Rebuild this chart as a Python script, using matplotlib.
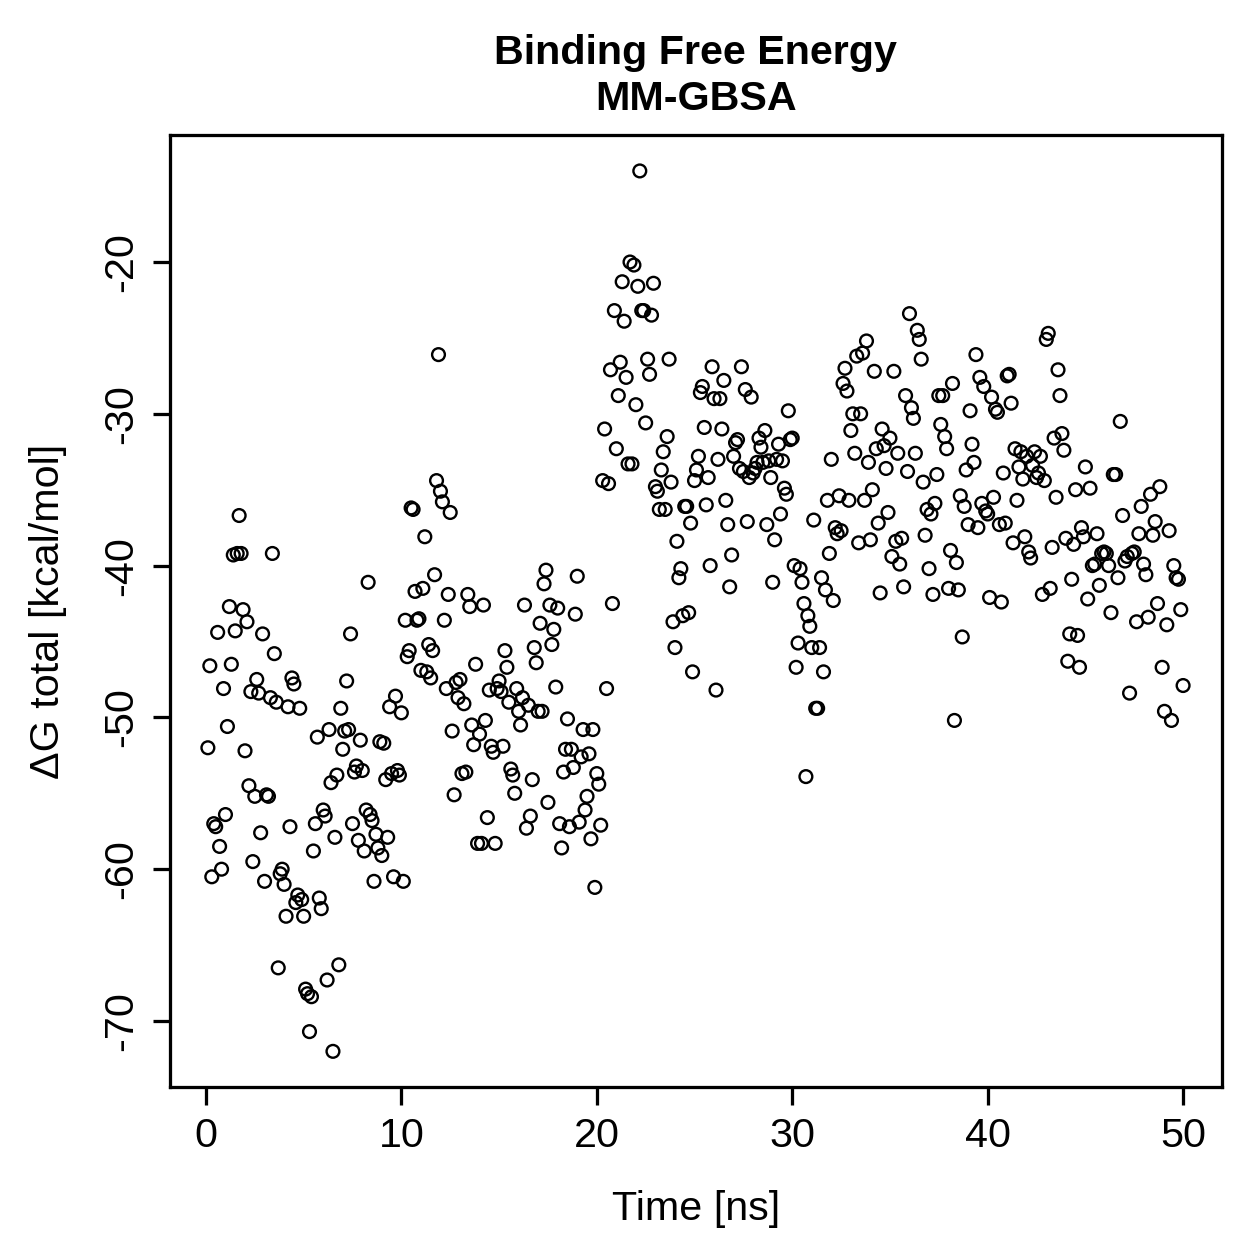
import numpy as np
import matplotlib
matplotlib.use('Agg')
import matplotlib.pyplot as plt

plt.rcParams['font.family'] = ['Liberation Sans', 'DejaVu Sans']
plt.rcParams['axes.unicode_minus'] = False

# dG total [kcal/mol] in 5 ns blocks (0.1 ns frames)
dg_00_05 = [-52.0, -46.6, -60.5, -57.0, -57.2, -44.4, -58.5, -60.0, -48.1, -56.4,
            -50.6, -42.7, -46.5, -39.3, -44.3, -39.2, -36.7, -39.2, -42.9, -52.2,
            -43.7, -54.5, -48.3, -59.5, -55.2, -47.5, -48.4, -57.6, -44.5, -60.8,
            -55.1, -55.2, -48.7, -39.2, -45.8, -49.0, -66.5, -60.3, -60.0, -61.0,
            -63.1, -49.3, -57.2, -47.4, -47.8, -62.2, -61.7, -49.4, -62.0, -63.1]
dg_05_10 = [-67.9, -68.2, -70.7, -68.4, -58.8, -57.0, -51.3, -61.9, -62.6, -56.1,
            -56.5, -67.3, -50.8, -54.3, -72.0, -57.9, -53.8, -66.3, -49.4, -52.1,
            -50.9, -47.6, -50.8, -44.5, -57.0, -53.6, -53.2, -58.1, -51.5, -53.5,
            -58.8, -56.1, -41.1, -56.4, -56.8, -60.8, -57.7, -58.6, -51.6, -59.1,
            -51.7, -54.1, -57.9, -49.3, -53.7, -60.5, -48.6, -53.5, -53.8, -49.7]
dg_10_15 = [-60.8, -43.6, -46.0, -45.6, -36.2, -36.3, -41.7, -43.6, -43.5, -46.9,
            -41.5, -38.1, -47.0, -45.2, -47.4, -45.6, -40.6, -34.4, -26.1, -35.1,
            -35.8, -43.6, -48.1, -41.9, -36.5, -50.9, -55.1, -47.7, -48.7, -47.5,
            -53.7, -49.1, -53.6, -41.9, -42.7, -50.5, -51.8, -46.5, -58.3, -51.1,
            -58.3, -42.6, -50.2, -56.6, -48.2, -51.9, -52.3, -58.3, -48.1, -47.6]
dg_15_20 = [-48.3, -51.9, -45.6, -46.7, -49.0, -53.4, -53.8, -55.0, -48.1, -49.6,
            -50.5, -48.7, -42.6, -57.3, -49.2, -56.5, -54.1, -45.4, -46.4, -49.6,
            -43.8, -49.6, -41.2, -40.3, -55.6, -42.6, -45.2, -44.2, -48.0, -42.8,
            -57.0, -58.6, -53.6, -52.1, -50.1, -57.2, -52.1, -53.3, -43.2, -40.7,
            -56.9, -52.6, -50.8, -56.1, -55.2, -52.4, -58.0, -50.8, -61.2, -53.7]
dg_20_25 = [-54.4, -57.1, -34.4, -31.0, -48.1, -34.6, -27.1, -42.5, -23.2, -32.3,
            -28.8, -26.6, -21.3, -23.9, -27.6, -33.3, -20.0, -33.3, -20.2, -29.4,
            -21.6, -14.0, -23.2, -23.2, -30.6, -26.4, -27.4, -23.5, -21.4, -34.8,
            -35.1, -36.3, -33.7, -32.5, -36.3, -31.5, -26.4, -34.5, -43.7, -45.4,
            -38.4, -40.8, -40.2, -43.3, -36.1, -36.1, -43.1, -37.2, -47.0, -34.4]
dg_25_30 = [-33.7, -32.8, -28.6, -28.2, -30.9, -36.0, -34.2, -40.0, -26.9, -29.0,
            -48.2, -33.0, -29.0, -31.0, -27.8, -35.7, -37.3, -41.4, -39.3, -32.8,
            -31.9, -31.7, -33.6, -26.9, -33.8, -28.4, -37.1, -34.2, -28.9, -33.9,
            -33.6, -33.2, -31.6, -32.2, -33.2, -31.1, -37.3, -33.1, -34.2, -41.1,
            -38.3, -33.0, -32.0, -36.6, -33.1, -34.9, -35.3, -29.8, -31.7, -31.6]
dg_30_35 = [-40.0, -46.7, -45.1, -40.2, -41.1, -42.5, -53.9, -43.3, -44.0, -45.4,
            -37.0, -49.4, -49.4, -45.4, -40.8, -47.0, -41.6, -35.7, -39.2, -33.0,
            -42.3, -37.5, -37.9, -35.4, -37.7, -28.0, -27.0, -28.5, -35.7, -31.1,
            -30.0, -32.6, -26.2, -38.5, -30.0, -26.0, -35.7, -25.2, -33.2, -38.3,
            -35.0, -27.2, -32.3, -37.2, -41.8, -31.0, -32.1, -33.6, -36.5, -31.6]
dg_35_40 = [-39.4, -27.2, -38.4, -32.6, -39.9, -38.2, -41.4, -28.8, -33.8, -23.4,
            -29.6, -30.3, -32.6, -24.5, -25.1, -26.4, -34.5, -38.0, -36.3, -40.2,
            -36.6, -41.9, -35.9, -34.0, -28.8, -30.7, -28.8, -31.5, -32.3, -41.5,
            -39.0, -28.0, -50.2, -39.8, -41.6, -35.4, -44.7, -36.1, -33.7, -37.3,
            -29.8, -32.0, -33.2, -26.1, -37.5, -27.6, -35.9, -28.2, -36.4, -36.6]
dg_40_45 = [-42.1, -28.9, -35.5, -29.7, -29.9, -37.3, -42.4, -33.9, -37.2, -27.5,
            -27.4, -29.3, -38.5, -32.3, -35.7, -33.5, -32.5, -34.3, -38.1, -32.8,
            -39.1, -39.5, -33.4, -32.5, -34.2, -33.9, -32.8, -41.9, -34.4, -25.1,
            -24.7, -41.5, -38.8, -31.6, -35.5, -27.1, -28.8, -31.3, -32.4, -38.2,
            -46.3, -44.5, -40.9, -38.6, -35.0, -44.6, -46.7, -37.5, -38.1, -33.5]
dg_45_50 = [-42.2, -34.9, -40.0, -39.9, -37.9, -41.3, -39.2, -39.1, -39.2, -40.0,
            -43.1, -34.0, -34.0, -40.8, -30.5, -36.7, -39.7, -39.4, -48.4, -39.2,
            -39.1, -43.7, -37.9, -36.1, -39.9, -40.6, -43.4, -35.3, -38.0, -37.1,
            -42.5, -34.8, -46.7, -49.6, -43.9, -37.7, -50.2, -40.0, -40.8, -40.9,
            -42.9, -47.9]

blocks = [dg_00_05, dg_05_10, dg_10_15, dg_15_20, dg_20_25,
          dg_25_30, dg_30_35, dg_35_40, dg_40_45, dg_45_50]

# frame times within each 5 ns block
time = []
dg = []
for k, b in enumerate(blocks):
    n = len(b)
    time.extend(5 * k + 5 * (np.arange(n) + 1) / n)
    dg.extend(b)
time = np.array(time)
dg = np.array(dg)

fig = plt.figure(figsize=(1259 / 180, 1259 / 180), dpi=180)
ax = fig.add_axes([0.135, 0.1366, 0.8356, 0.7562])

ax.scatter(time, dg, s=26, facecolors='none', edgecolors='black', linewidths=0.95)

ax.set_xlim(-1.84, 51.99)
ax.set_ylim(-74.35, -11.63)
ax.set_xticks([0, 10, 20, 30, 40, 50])
ax.set_yticks([-70, -60, -50, -40, -30, -20])
ax.tick_params(axis='both', direction='out', length=7, width=1.3,
               labelsize=16.5, pad=5, top=False, right=False)
for lab in ax.get_yticklabels():
    lab.set_rotation(90)
    lab.set_va('center')
for sp in ax.spines.values():
    sp.set_linewidth(1.3)

ax.set_xlabel('Time [ns]', fontsize=16.5, labelpad=14)
ax.set_ylabel('ΔG total [kcal/mol]', fontsize=16.5, labelpad=14)
ax.set_title('Binding Free Energy\nMM-GBSA', fontsize=16.5, fontweight='bold',
             pad=10, linespacing=1.25)

fig.savefig('out.png', dpi=180)
